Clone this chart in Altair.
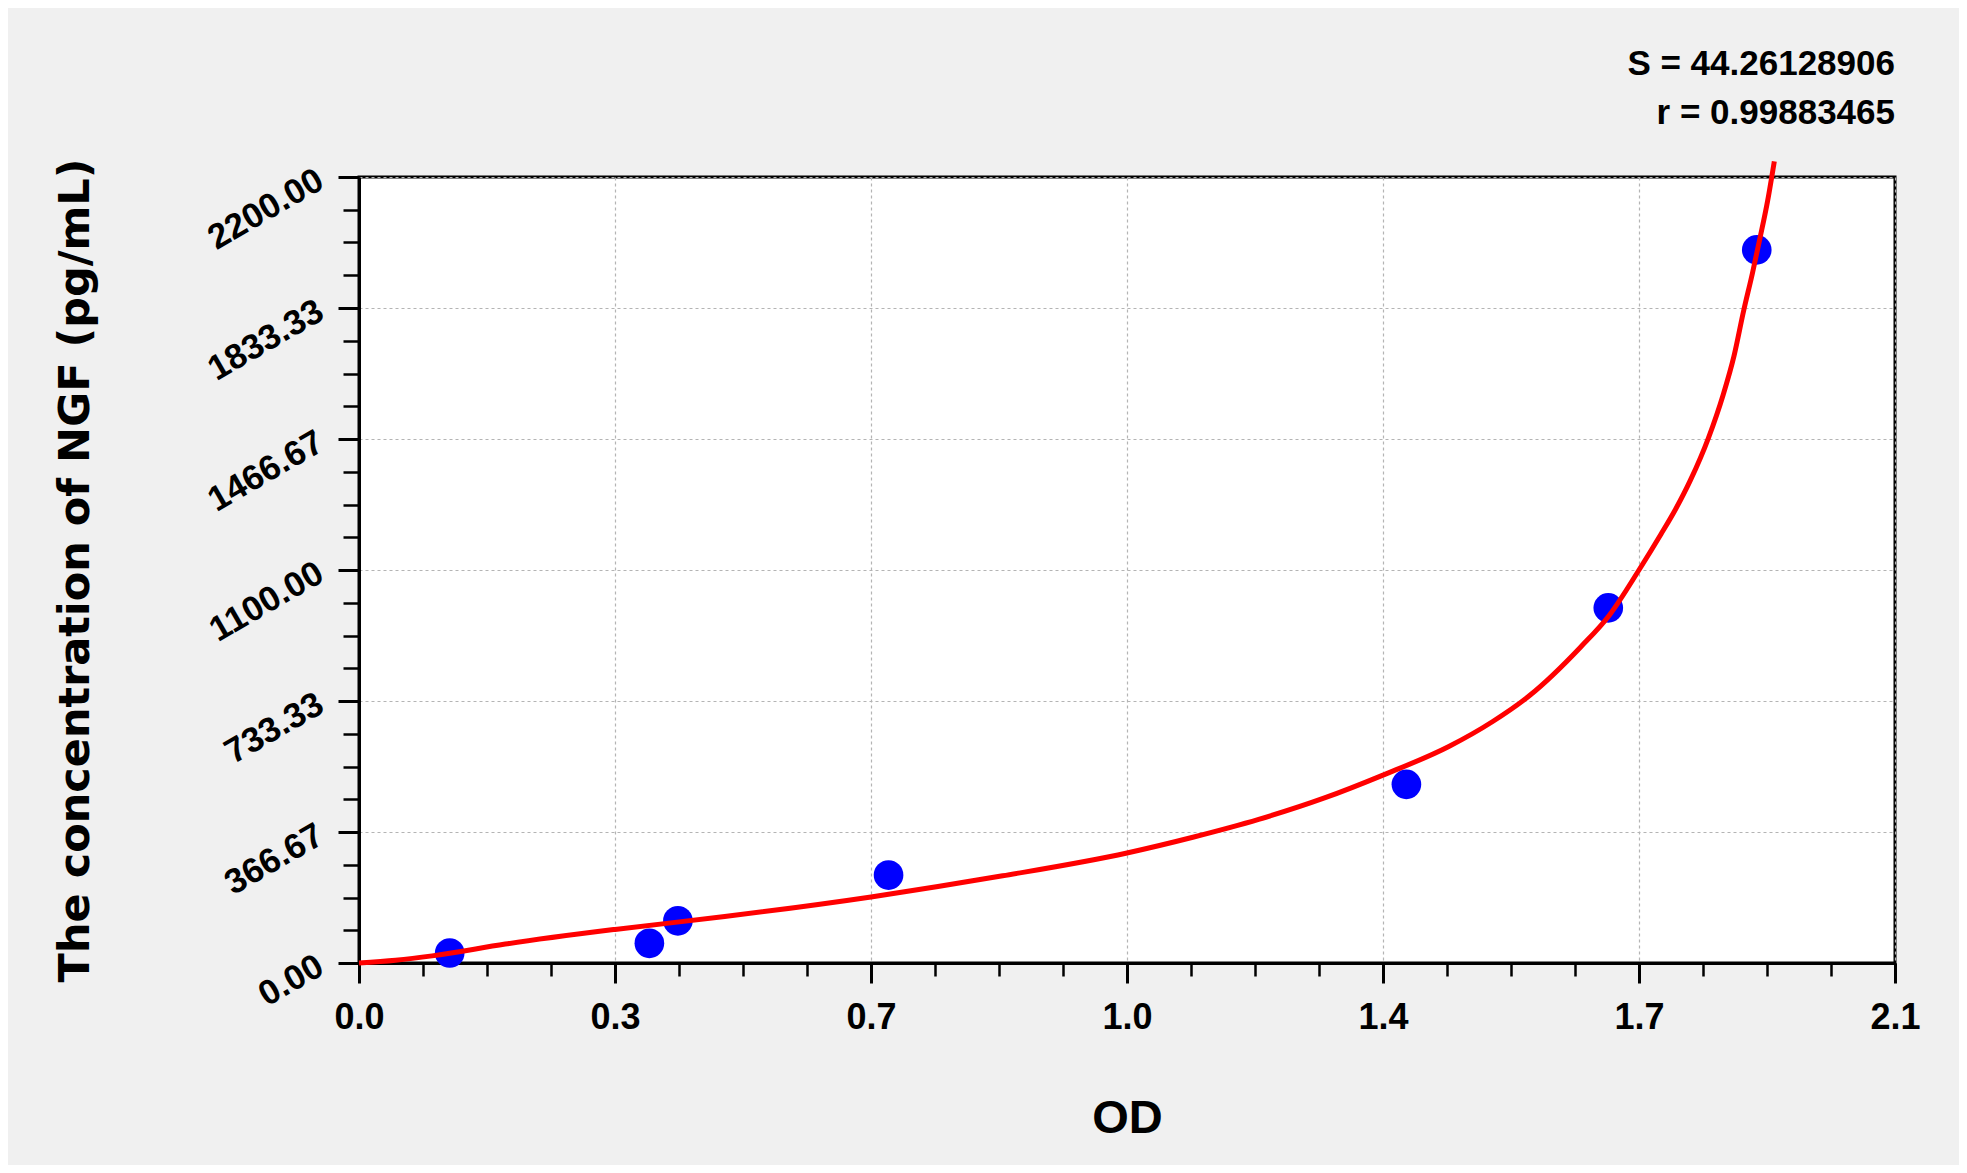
import altair as alt
import pandas as pd

# ---- data ----
od_points = [0.124, 0.397, 0.436, 0.724, 1.432, 1.708, 1.911]
conc_points = [28, 55, 118, 246, 500, 994, 1996]

curve_od = [0.0, 0.05, 0.10, 0.20, 0.35, 0.50, 0.70, 0.88, 1.05, 1.14, 1.23, 1.32,
            1.40, 1.49, 1.55, 1.60, 1.67, 1.71, 1.75, 1.78, 1.80, 1.82, 1.845, 1.865,
            1.88, 1.893, 1.905, 1.915, 1.926, 1.935]
curve_conc = [0, 8, 20, 53, 94, 130, 185, 244, 308, 352, 402, 462,
              526, 606, 676, 748, 884, 975, 1100, 1200, 1270, 1350, 1470, 1590,
              1700, 1825, 1930, 2025, 2135, 2244]

x_tick_values = [0.0, 0.35, 0.70, 1.05, 1.40, 1.75, 2.10]
x_tick_labels = ["0.0", "0.3", "0.7", "1.0", "1.4", "1.7", "2.1"]
x_minor_values = [i * 0.0875 for i in range(25)]
y_tick_values = [0, 2200 / 6, 2 * 2200 / 6, 1100, 4 * 2200 / 6, 5 * 2200 / 6, 2200]
y_minor_values = [i * 2200 / 24 for i in range(25)]

stats_lines = ["S = 44.26128906", "r = 0.99883465"]
x_title = "OD"
y_title = "The concentration of NGF (pg/mL)"

# ---- layout ----
W, H = 1536, 786
SANS = "Liberation Sans, Arial"

pts = pd.DataFrame({"od": od_points, "conc": conc_points})
crv = pd.DataFrame({"od": curve_od, "conc": curve_conc})

x_scale = alt.Scale(domain=[0, 2.1], nice=False, zero=False)
y_scale = alt.Scale(domain=[0, 2200], nice=False, zero=False)

label_expr = "[" + ",".join("'%s'" % s for s in x_tick_labels) + "][round(datum.value/0.35)]"

x_main_axis = alt.Axis(
    values=x_tick_values, labelExpr=label_expr, orient="bottom",
    tickSize=20, tickWidth=3, tickColor="black",
    domainColor="black", domainWidth=3,
    labelFont=SANS, labelFontSize=36, labelFontWeight="bold", labelColor="black",
    labelBaseline="alphabetic", labelPadding=45, labelFlush=False, labelOverlap=False,
    grid=True, gridColor="#b4b4b4", gridDash=[3, 3], gridWidth=1.2,
    title=x_title, titleFont=SANS, titleFontSize=47, titleFontWeight="bold",
    titleColor="black", titleBaseline="alphabetic", titleAlign="center",
    titleX=W / 2, titleY=169,
)
x_minor_axis = alt.Axis(
    values=x_minor_values, orient="bottom", labels=False, domain=False, grid=False,
    tickSize=13, tickWidth=2.5, tickColor="black", title=None,
)
y_main_axis = alt.Axis(
    values=y_tick_values, format=".2f", orient="left",
    tickSize=21, tickWidth=3, tickColor="black",
    domainColor="black", domainWidth=3,
    labelFont=SANS, labelFontSize=35, labelFontWeight="bold", labelColor="black",
    labelAngle=330, labelAlign="right", labelBaseline="middle", labelPadding=18,
    labelFlush=False, labelOverlap=False,
    grid=True, gridColor="#b4b4b4", gridDash=[3, 3], gridWidth=1.2,
    title=y_title, titleFont="DejaVu Sans", titleFontSize=43, titleFontWeight="bold",
    titleColor="black", titleBaseline="alphabetic", titleAlign="center", titleAngle=270,
    titleX=-271, titleY=H / 2,
)
y_minor_axis = alt.Axis(
    values=y_minor_values, orient="left", labels=False, domain=False, grid=False,
    tickSize=16, tickWidth=2.5, tickColor="black", title=None,
)

points = alt.Chart(pts).mark_circle(size=880, color="#0000ff", opacity=1).encode(
    x=alt.X("od:Q", scale=x_scale, axis=x_main_axis),
    y=alt.Y("conc:Q", scale=y_scale, axis=y_main_axis),
)
line = alt.Chart(crv).mark_line(
    color="#ff0000", strokeWidth=5, clip=False, interpolate="monotone"
).encode(
    x=alt.X("od:Q", scale=x_scale, axis=x_minor_axis),
    y=alt.Y("conc:Q", scale=y_scale, axis=y_minor_axis),
)

chart = (
    alt.layer(points, line)
    .resolve_axis(x="independent", y="independent")
    .properties(
        width=W, height=H,
        autosize=alt.AutoSizeParams(type="none"),
        padding={"left": 351, "top": 169, "right": 64, "bottom": 202},
        background="#f0f0f0",
        title=alt.TitleParams(
            text=stats_lines, anchor="end", frame="group", orient="top",
            align="right", baseline="bottom", font=SANS, fontSize=35,
            fontWeight="bold", color="black", lineHeight=49, offset=-15,
        ),
    )
    .configure_view(stroke="black", strokeWidth=3, fill="white")
)

chart.save("out.html", embed_options={"renderer": "svg", "actions": False})
